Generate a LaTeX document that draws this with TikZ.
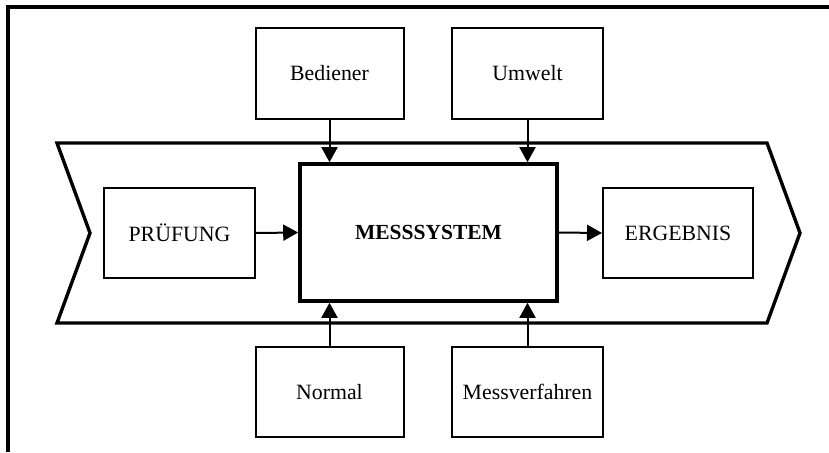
\documentclass[tikz,border=0pt]{standalone}
\usepackage{fontspec}
\setmainfont{Liberation Serif}
\usetikzlibrary{arrows.meta}
\begin{document}
\begin{tikzpicture}[x=1pt,y=-1pt,
  box/.style={draw,line width=2pt,inner sep=0pt,font=\fontsize{21.8}{26}\selectfont},
  mainbox/.style={draw,line width=3.6pt,inner sep=0pt,font=\fontsize{21.5}{26}\selectfont\bfseries},
  arr/.style={line width=2pt,-{Triangle[length=15pt,width=16pt]}}]
\useasboundingbox (0,0) rectangle (829,452);
% frame
\draw[line width=3.2pt] (8,452) -- (8,7) -- (829,7);
% chevron
\draw[line width=3.4pt,line join=miter] (57,143) -- (767,143) -- (800,233) -- (767,323) -- (57,323) -- (90,233) -- cycle;
% boxes
\node[box,minimum width=148,minimum height=91] (bed) at (329.5,73.5) {Bediener};
\node[box,minimum width=151,minimum height=91] (umw) at (527.5,73.5) {Umwelt};
\node[box,minimum width=148,minimum height=90] (nor) at (329.5,392) {Normal};
\node[box,minimum width=151,minimum height=90] (mv) at (527.5,392) {Messverfahren};
\node[box,minimum width=151,minimum height=90] (pr) at (179.5,233) {PRÜFUNG};
\node[box,minimum width=150,minimum height=90] (erg) at (678,233) {ERGEBNIS};
\node[mainbox,minimum width=257,minimum height=137] (ms) at (428.5,232.5) {MESSSYSTEM};
% arrows
\draw[arr] (bed.south) -- (bed.south |- ms.north);
\draw[arr] (umw.south) -- (umw.south |- ms.north);
\draw[arr] (nor.north) -- (nor.north |- ms.south);
\draw[arr] (mv.north) -- (mv.north |- ms.south);
\draw[arr] (pr.east) -- (ms.west);
\draw[arr] (ms.east) -- (erg.west);
\end{tikzpicture}
\end{document}
